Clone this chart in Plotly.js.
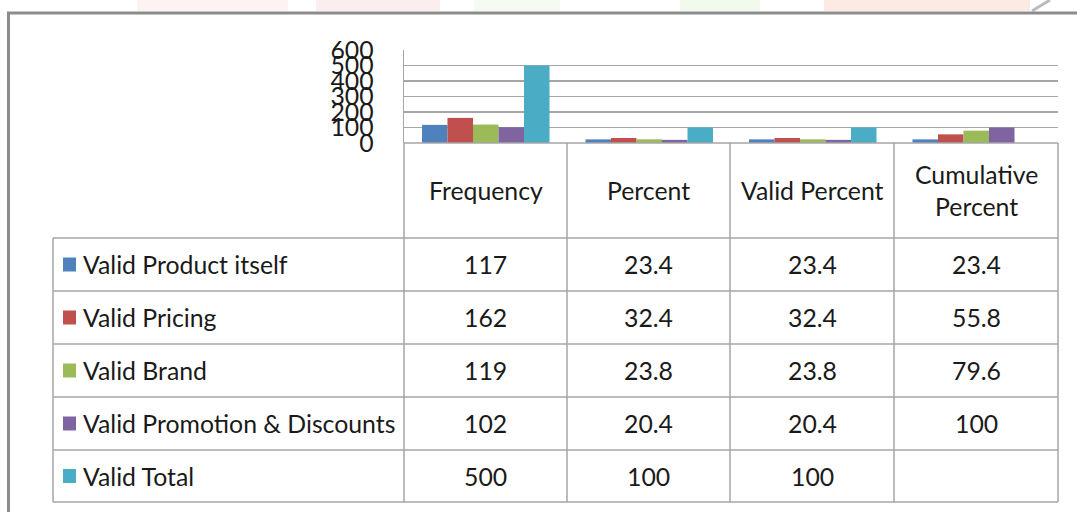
<!DOCTYPE html>
<html>
<head>
<meta charset="utf-8">
<script src="https://cdn.plot.ly/plotly-3.0.1.min.js"></script>
<style>html,body{margin:0;padding:0;background:#fff;}#chart{width:1077px;height:512px;}</style>
</head>
<body>
<div id="chart"></div>
<script>
// ---- data ----
var categories = ["Frequency", "Percent", "Valid Percent", "Cumulative Percent"];
var headerLabels = ["Frequency", "Percent", "Valid Percent", "Cumulative<br>Percent"];
var seriesNames = ["Valid Product itself", "Valid Pricing", "Valid Brand", "Valid Promotion & Discounts", "Valid Total"];
var productItself = [117, 23.4, 23.4, 23.4];
var pricing = [162, 32.4, 32.4, 55.8];
var brand = [119, 23.8, 23.8, 79.6];
var promotion = [102, 20.4, 20.4, 100];
var total = [500, 100, 100, null];
var seriesColors = ["#4F81BD", "#C0504D", "#9BBB59", "#8064A2", "#4BACC6"];
var yTicks = [0, 100, 200, 300, 400, 500, 600];

var allSeries = [productItself, pricing, brand, promotion, total];

// ---- geometry helpers (pixel -> paper) ----
var W = 1077, H = 512;
function px(x) { return x / W; }
function py(y) { return 1 - y / H; }

var colEdges = [404, 567, 730, 894, 1058];
var rowEdges = [238, 291, 344, 397, 450, 502];
var headerTop = 143;
var legendLeft = 53;
var font = "Lato, 'Open Sans', sans-serif";
var fs = 24.8;
var gridCol = "#a6a6a6";

var traces = allSeries.map(function (vals, i) {
  return {
    type: "bar",
    x: categories,
    y: vals,
    name: seriesNames[i],
    marker: { color: seriesColors[i] },
    hoverinfo: "skip"
  };
});

var shapes = [];
// faint watermark hints above frame
var wm = [[137, 288, "rgba(245,200,200,0.22)"], [316, 440, "rgba(245,195,200,0.3)"], [474, 560, "rgba(205,235,195,0.2)"], [680, 760, "rgba(205,235,185,0.25)"], [824, 1030, "rgba(250,195,175,0.35)"]];
wm.forEach(function (w) {
  shapes.push({ type: "rect", xref: "paper", yref: "paper", x0: px(w[0]), x1: px(w[1]), y0: py(11), y1: py(0), fillcolor: w[2], line: { width: 0 }, layer: "below" });
});
shapes.push({ type: "line", xref: "paper", yref: "paper", x0: px(1032), x1: px(1050), y0: py(11), y1: py(0), line: { color: "rgba(120,120,120,0.5)", width: 3 } });
// outer frame
shapes.push({ type: "line", xref: "paper", yref: "paper", x0: px(7), x1: 1, y0: py(13), y1: py(13), line: { color: "#8c8c8c", width: 3 } });
shapes.push({ type: "line", xref: "paper", yref: "paper", x0: px(8.5), x1: px(8.5), y0: py(12), y1: 0, line: { color: "#8c8c8c", width: 3 } });

// table lines
function hline(x0, x1, y) { shapes.push({ type: "line", xref: "paper", yref: "paper", x0: px(x0), x1: px(x1), y0: py(y), y1: py(y), line: { color: gridCol, width: 1.5 } }); }
function vline(x, y0, y1) { shapes.push({ type: "line", xref: "paper", yref: "paper", x0: px(x), x1: px(x), y0: py(y0), y1: py(y1), line: { color: gridCol, width: 1.5 } }); }
hline(colEdges[0], colEdges[4], headerTop);
rowEdges.forEach(function (y) { hline(legendLeft, colEdges[4], y); });
vline(legendLeft, rowEdges[0], rowEdges[5]);
colEdges.forEach(function (x) { vline(x, headerTop, rowEdges[5]); });

var annotations = [];
// header labels
headerLabels.forEach(function (t, c) {
  annotations.push({ xref: "paper", yref: "paper", x: px((colEdges[c] + colEdges[c + 1]) / 2), y: py(190), text: t, showarrow: false, xanchor: "center", yanchor: "middle", font: { family: font, size: fs, color: "#1a1a1a" } });
});
// rows
seriesNames.forEach(function (name, r) {
  var yc = (rowEdges[r] + rowEdges[r + 1]) / 2;
  shapes.push({ type: "rect", xref: "paper", yref: "paper", x0: px(63), x1: px(76), y0: py(yc + 7), y1: py(yc - 7), fillcolor: seriesColors[r], line: { width: 0 } });
  annotations.push({ xref: "paper", yref: "paper", x: px(81), y: py(yc), text: name, showarrow: false, xanchor: "left", yanchor: "middle", font: { family: font, size: fs, color: "#1a1a1a" } });
  allSeries[r].forEach(function (v, c) {
    if (v === null) return;
    annotations.push({ xref: "paper", yref: "paper", x: px((colEdges[c] + colEdges[c + 1]) / 2), y: py(yc), text: String(v), showarrow: false, xanchor: "center", yanchor: "middle", font: { family: font, size: fs, color: "#1a1a1a" } });
  });
});

var layout = {
  width: W, height: H,
  margin: { l: 0, r: 0, t: 0, b: 0 },
  paper_bgcolor: "#ffffff",
  plot_bgcolor: "#ffffff",
  showlegend: false,
  barmode: "group",
  bargap: 0.22,
  bargroupgap: 0,
  xaxis: {
    domain: [px(404), px(1058)],
    showticklabels: false,
    showgrid: false,
    zeroline: false,
    showline: false,
    fixedrange: true
  },
  yaxis: {
    domain: [py(143), py(50)],
    range: [0, 600],
    tickvals: yTicks,
    ticktext: yTicks.map(String),
    showgrid: true,
    gridcolor: gridCol,
    gridwidth: 1.5,
    zeroline: false,
    showline: true,
    linecolor: gridCol,
    linewidth: 1.5,
    ticks: "",
    ticklabelstandoff: 24,
    tickfont: { family: font, size: fs, color: "#1a1a1a" },
    fixedrange: true
  },
  shapes: shapes,
  annotations: annotations
};

Plotly.newPlot("chart", traces, layout, { displayModeBar: false, staticPlot: true });
</script>
</body>
</html>
